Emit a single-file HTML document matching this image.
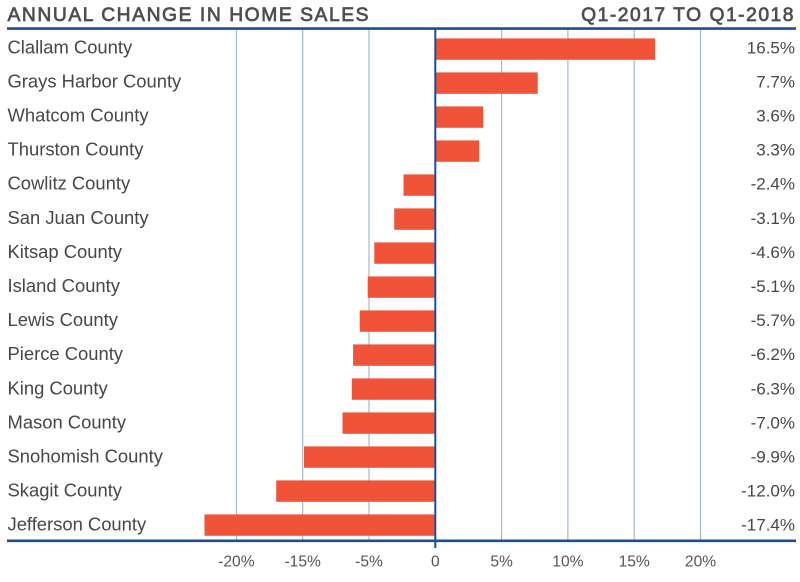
<!DOCTYPE html>
<html><head><meta charset="utf-8">
<style>
html,body{margin:0;padding:0;background:#fff;}
svg{display:block;}
</style></head>
<body>
<svg width="800" height="582" viewBox="0 0 800 582" xmlns="http://www.w3.org/2000/svg" font-family="Liberation Sans, sans-serif">
<rect width="800" height="582" fill="#fff"/>
<!-- header -->
<text x="7.5" y="20.8" font-size="19.3" fill="#4e4e4e" stroke="#4e4e4e" stroke-width="0.7" letter-spacing="1.55">ANNUAL CHANGE IN HOME SALES</text>
<text x="795" y="20.8" font-size="19.3" fill="#4e4e4e" stroke="#4e4e4e" stroke-width="0.7" letter-spacing="1.5" text-anchor="end">Q1-2017 TO Q1-2018</text>
<!-- gridlines -->
<g stroke="#a3bad3" stroke-width="1.2">
<line x1="236.4" y1="29" x2="236.4" y2="540"/>
<line x1="302.7" y1="29" x2="302.7" y2="540"/>
<line x1="369" y1="29" x2="369" y2="540"/>
<line x1="501.6" y1="29" x2="501.6" y2="540"/>
<line x1="567.9" y1="29" x2="567.9" y2="540"/>
<line x1="634.2" y1="29" x2="634.2" y2="540"/>
<line x1="700.5" y1="29" x2="700.5" y2="540"/>
</g>
<!-- bars -->
<g fill="#f15339">
<rect x="435.3" y="38.4" width="219.7" height="21.4"/>
<rect x="435.3" y="72.4" width="102.4" height="21.4"/>
<rect x="435.3" y="106.4" width="47.8" height="21.4"/>
<rect x="435.3" y="140.4" width="43.8" height="21.4"/>
<rect x="403.5" y="174.4" width="31.8" height="21.4"/>
<rect x="394.2" y="208.4" width="41.1" height="21.4"/>
<rect x="374.3" y="242.4" width="61" height="21.4"/>
<rect x="367.7" y="276.4" width="67.6" height="21.4"/>
<rect x="359.7" y="310.4" width="75.6" height="21.4"/>
<rect x="353.1" y="344.4" width="82.2" height="21.4"/>
<rect x="351.8" y="378.4" width="83.5" height="21.4"/>
<rect x="342.5" y="412.4" width="92.8" height="21.4"/>
<rect x="304" y="446.4" width="131.3" height="21.4"/>
<rect x="276.2" y="480.4" width="159.1" height="21.4"/>
<rect x="204.5" y="514.4" width="230.8" height="21.4"/>
</g>
<!-- zero line, header line, axis line -->
<line x1="435.3" y1="28" x2="435.3" y2="548" stroke="#1c4f91" stroke-width="2"/>
<line x1="7" y1="28.6" x2="796" y2="28.6" stroke="#1c4f91" stroke-width="2.6"/>
<line x1="7" y1="540.8" x2="796" y2="540.8" stroke="#1c4f91" stroke-width="2.6"/>
<!-- county labels -->
<g font-size="18.4" fill="#474747">
<text x="7.5" y="53.3">Clallam County</text>
<text x="7.5" y="87.4">Grays Harbor County</text>
<text x="7.5" y="121.5">Whatcom County</text>
<text x="7.5" y="155.6">Thurston County</text>
<text x="7.5" y="189.7">Cowlitz County</text>
<text x="7.5" y="223.8">San Juan County</text>
<text x="7.5" y="257.9">Kitsap County</text>
<text x="7.5" y="292">Island County</text>
<text x="7.5" y="326.1">Lewis County</text>
<text x="7.5" y="360.2">Pierce County</text>
<text x="7.5" y="394.3">King County</text>
<text x="7.5" y="428.4">Mason County</text>
<text x="7.5" y="462.5">Snohomish County</text>
<text x="7.5" y="496.6">Skagit County</text>
<text x="7.5" y="530.7">Jefferson County</text>
</g>
<!-- value labels -->
<g font-size="17" fill="#474747" text-anchor="end">
<text x="795" y="53.3">16.5%</text>
<text x="795" y="87.4">7.7%</text>
<text x="795" y="121.5">3.6%</text>
<text x="795" y="155.6">3.3%</text>
<text x="795" y="189.7">-2.4%</text>
<text x="795" y="223.8">-3.1%</text>
<text x="795" y="257.9">-4.6%</text>
<text x="795" y="292">-5.1%</text>
<text x="795" y="326.1">-5.7%</text>
<text x="795" y="360.2">-6.2%</text>
<text x="795" y="394.3">-6.3%</text>
<text x="795" y="428.4">-7.0%</text>
<text x="795" y="462.5">-9.9%</text>
<text x="795" y="496.6">-12.0%</text>
<text x="795" y="530.7">-17.4%</text>
</g>
<!-- axis labels -->
<g font-size="15.6" fill="#555" text-anchor="middle">
<text x="236.4" y="566.5">-20%</text>
<text x="302.7" y="566.5">-15%</text>
<text x="369" y="566.5">-5%</text>
<text x="435.3" y="566.5">0</text>
<text x="501.6" y="566.5">5%</text>
<text x="567.9" y="566.5">10%</text>
<text x="634.2" y="566.5">15%</text>
<text x="700.5" y="566.5">20%</text>
</g>
</svg>
</body></html>
